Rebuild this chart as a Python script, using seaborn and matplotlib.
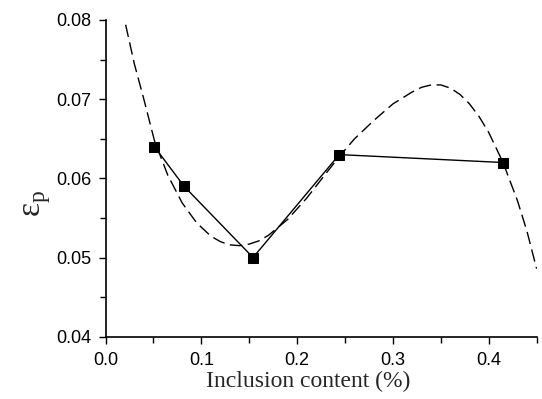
import pandas as pd
import matplotlib
matplotlib.use("Agg")
import matplotlib.pyplot as plt
import seaborn as sns
from matplotlib.ticker import MultipleLocator

# measured points
content = [0.051, 0.082, 0.154, 0.244, 0.415]
eps_p = [0.0640, 0.0590, 0.0500, 0.0630, 0.0620]

# dashed fit curve
fit_x = [0.021, 0.03, 0.04, 0.051, 0.065, 0.08, 0.095, 0.11, 0.12, 0.13, 0.14, 0.15,
         0.16, 0.17, 0.19, 0.21, 0.23, 0.245, 0.26, 0.28, 0.30, 0.32, 0.33, 0.34,
         0.35, 0.36, 0.37, 0.38, 0.39, 0.40, 0.415, 0.43, 0.44, 0.45]
fit_y = [0.0794, 0.0745, 0.0700, 0.0648, 0.0604, 0.0569, 0.0544, 0.0527, 0.0520, 0.0516, 0.0515, 0.0517,
         0.0521, 0.0528, 0.0548, 0.0575, 0.0606, 0.0629, 0.0650, 0.0673, 0.0694, 0.0709, 0.0715, 0.0718,
         0.0718, 0.0714, 0.0706, 0.0694, 0.0678, 0.0658, 0.0620, 0.0572, 0.0533, 0.0486]

df_pts = pd.DataFrame({"x": content, "y": eps_p})
df_fit = pd.DataFrame({"x": fit_x, "y": fit_y})

sns.set_style("ticks")
plt.rcParams["font.family"] = ["Liberation Sans", "DejaVu Sans"]

fig = plt.figure(figsize=(5.42, 3.99), dpi=100)
ax = fig.add_axes([0.1947, 0.1561, 0.7953, 0.7938])

sns.lineplot(data=df_fit, x="x", y="y", ax=ax, color="black", linewidth=1.0,
             dashes=False, sort=False)
ax.lines[-1].set_dashes((9, 4))
sns.lineplot(data=df_pts, x="x", y="y", ax=ax, color="black", linewidth=1.0,
             marker="s", markersize=6.5, markeredgecolor="black", sort=False)

ax.set_xlim(0.0, 0.45)
ax.set_ylim(0.04, 0.08)
ax.xaxis.set_major_locator(MultipleLocator(0.1))
ax.xaxis.set_minor_locator(MultipleLocator(0.05))
ax.yaxis.set_major_locator(MultipleLocator(0.01))
ax.yaxis.set_minor_locator(MultipleLocator(0.005))
ax.xaxis.set_major_formatter(plt.FuncFormatter(lambda v, p: f"{v:.1f}"))
ax.yaxis.set_major_formatter(plt.FuncFormatter(lambda v, p: f"{v:.2f}"))

sns.despine(ax=ax)
for s in ["left", "bottom"]:
    ax.spines[s].set_linewidth(1.2)
    ax.spines[s].set_color("black")
ax.tick_params(which="major", direction="out", length=5, width=1.0,
               labelsize=13, colors="black")
ax.tick_params(axis="x", which="major", pad=6)
ax.tick_params(axis="y", which="major", pad=5)
ax.tick_params(which="minor", direction="out", length=4, width=1.0, colors="black")

ax.set_xlabel("Inclusion content (%)", fontsize=17, family="Liberation Serif")
ax.xaxis.set_label_coords(0.47, -0.108)
ax.set_ylabel(r"ε$_{\mathregular{p}}$", fontsize=24, family="Liberation Serif")
ax.yaxis.set_label_coords(-0.122, 0.422)

fig.savefig("out.png", dpi=100)
